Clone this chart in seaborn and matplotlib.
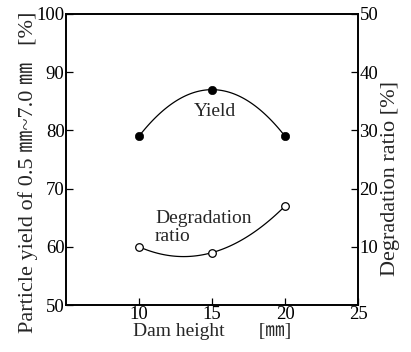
import numpy as np
import pandas as pd
import seaborn as sns
import matplotlib
matplotlib.use("Agg")
import matplotlib.pyplot as plt

dam_height = [10, 15, 20]
yield_pct = [79, 87, 79]
degradation_pct = [10, 9, 17]

sns.set_theme(style="white")
plt.rcParams['font.family'] = ['Liberation Serif', 'Noto Sans CJK JP', 'DejaVu Sans']

fig = plt.figure(figsize=(4.11, 3.52), dpi=100)
ax = fig.add_axes([66/411, 1-305/352, (358-66)/411, (305-14)/352])
ax2 = ax.twinx()

df = pd.DataFrame({"h": dam_height, "y": yield_pct, "d": degradation_pct})

# smooth curves through points
xs = np.linspace(10, 20, 100)
cy = np.polyval(np.polyfit(df.h, df.y, 2), xs)
cd = np.polyval(np.polyfit(df.h, df.d, 2), xs)
ax.plot(xs, cy, color='black', lw=0.9, zorder=2)
ax2.plot(xs, cd, color='black', lw=0.9, zorder=2)

sns.scatterplot(data=df, x="h", y="y", ax=ax, color='black', s=36, edgecolor='black', zorder=3, legend=False)
sns.scatterplot(data=df, x="h", y="d", ax=ax2, color='white', s=30, edgecolor='black', linewidth=0.9, zorder=3, legend=False)

ax.set_xlim(5, 25)
ax.set_ylim(50, 100)
ax2.set_ylim(0, 50)
ax.set_xticks([10, 15, 20, 25])
ax.set_yticks([50, 60, 70, 80, 90, 100])
ax2.set_yticks([10, 20, 30, 40, 50])

for a in (ax, ax2):
    for s in a.spines.values():
        s.set_color('black')
        s.set_linewidth(1.2)
ax.tick_params(axis='both', direction='in', length=5, width=0.9, labelsize=13.5, colors='black', pad=1,
               left=True, bottom=True, right=False, top=False)
ax2.tick_params(axis='y', direction='in', length=5, width=0.9, labelsize=13.5, colors='black', pad=1,
                right=True, left=False)

ax.set_xlabel("Dam height       [㎜]", fontsize=14, labelpad=0)
ax.set_ylabel("Particle yield of 0.5 ㎜~7.0 ㎜   [%]", fontsize=16, labelpad=-1)
ax2.set_ylabel("Degradation ratio  [%]", fontsize=16, labelpad=2)
ax2.set_ylabel("Degradation ratio [%]", fontsize=16, labelpad=2)
ax.yaxis.label.set_y(0.457)
ax2.yaxis.label.set_y(0.433)

ax.text(15.2, 83.3, "Yield", fontsize=14, ha='center', va='center')
ax.text(11.1, 64.8, "Degradation", fontsize=14, ha='left', va='center')
ax.text(11.1, 61.7, "ratio", fontsize=14, ha='left', va='center')

ax.grid(False); ax2.grid(False)
fig.savefig("out.png", dpi=100)
